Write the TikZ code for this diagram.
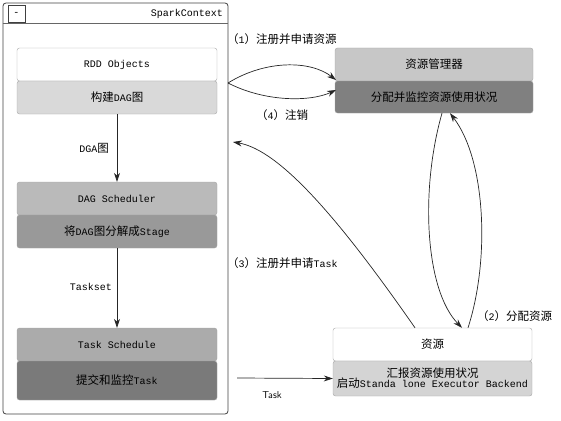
\documentclass[tikz,border=0pt]{standalone}
\usepackage{fontspec}
\setmainfont{Liberation Mono}
\newfontfamily\cjk[Scale=1.15]{Noto Sans CJK SC}
\usetikzlibrary{arrows.meta}
\begin{document}
\begin{tikzpicture}[x=1pt,y=-1pt,
  every node/.style={font=\fontsize{10}{12}\selectfont, inner sep=0pt, text=black},
  box/.style={draw=gray!70, rounded corners=2.5pt, minimum width=200pt, minimum height=33pt},
  rbox/.style={box, minimum width=198pt},
  arr/.style={draw=black!85, line width=0.7pt, -{Stealth[length=9pt,width=6pt]}},
  lbl/.style={text=black}
]
\useasboundingbox (0,0) rectangle (561,420);
% outer SparkContext frame
\node[draw=black!75, line width=0.8pt, rounded corners=3pt, minimum width=225pt, minimum height=411pt] (sc) at (115.5,208.5) {};
\draw[black!60, line width=0.6pt] (sc.north west) ++(0,21) -- ++(225,0);
\node[draw=black!75, line width=0.6pt, minimum width=17pt, minimum height=17pt] (minus) at (16.5,13.5) {-};
\node[anchor=east, lbl] (title) at (223,14) {SparkContext};

% left column
\node[box, fill=white] (rdd) at (117,64.5) {RDD Objects};
\node[box, fill=black!15] (build) at (117,97.5) {{\cjk 构建}DAG{\cjk 图}};
\node[box, fill=black!27] (dags) at (117,198.5) {DAG Scheduler};
\node[box, fill=black!40] (split) at (117,231.5) {{\cjk 将}DAG{\cjk 图分解成}Stage};
\node[box, fill=black!33] (tsch) at (117,344.5) {Task Schedule};
\node[box, fill=black!52, minimum height=39pt] (sub) at (117,380.5) {{\cjk 提交和监控}Task};

% right column
\node[rbox, fill=black!22] (rm) at (434,64.5) {\cjk 资源管理器};
\node[rbox, fill=black!50, minimum height=32pt] (alloc) at (434,97) {\cjk 分配并监控资源使用状况};
\node[rbox, minimum width=199pt, fill=white] (res) at (432.5,344.5) {\cjk 资源};
\node[rbox, minimum width=199pt, fill=black!17, minimum height=35pt, align=center] (rep) at (432.5,378.5)
  {{\cjk 汇报资源使用状况}\\[-2pt]{\cjk 启动}Standa lone Executor Backend};

% vertical arrows inside SparkContext
\draw[arr] (build) -- (dags);
\node[anchor=east, lbl] (dga) at (109,148) {DGA{\cjk 图}};
\draw[arr] (split) -- (tsch);
\node[anchor=east, lbl] (tset) at (112,287) {Taskset};

% (1) and (4)
\coordinate (c1) at (228,83);
\coordinate (rmtip) at (336,80);
\coordinate (altip) at (336,90);
\draw[arr] (c1) .. controls (265,60) and (310,60) .. (rmtip);
\draw[arr] (c1) .. controls (265,102) and (310,102) .. (altip);
\node[anchor=west, lbl] (l1) at (227,39) {{\cjk （}1{\cjk ）注册并申请资源}};
\node[anchor=west, lbl] (l4) at (256,115) {{\cjk （}4{\cjk ）注销}};

% (3)
\coordinate (t3) at (233,142);
\draw[arr] ([xshift=-17.5pt]res.north) .. controls (340,220) and (280,150) .. (t3);
\node[anchor=west, lbl] (l3) at (227,263) {{\cjk （}3{\cjk ）注册并申请}Task};

% (2) double curves
\draw[arr] ([xshift=8pt]alloc.south) .. controls (420,190) and (425,290) .. ([xshift=29.5pt]res.north);
\draw[arr] ([xshift=35.5pt]res.north) .. controls (490,260) and (486,160) .. ([xshift=16pt]alloc.south);
\node[anchor=west, lbl] (l2) at (477,316) {{\cjk （}2{\cjk ）分配资源}};

% Task arrow
\coordinate (tk) at (237,378);
\draw[arr] (tk) -- (rep.west);
\node[lbl, font=\fontsize{10}{12}\selectfont\sffamily] (tasklbl) at (272,395) {Task};
\end{tikzpicture}
\end{document}
